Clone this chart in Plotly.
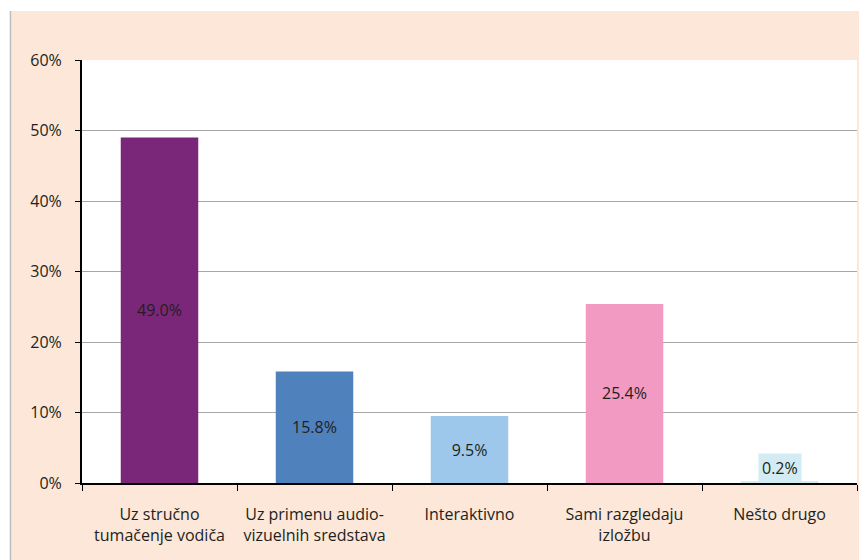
import plotly.graph_objects as go

categories = [
    'Uz stručno<br>tumačenje vodiča',
    'Uz primenu audio-<br>vizuelnih sredstava',
    'Interaktivno',
    'Sami razgledaju<br>izložbu',
    'Nešto drugo',
]
values = [49.0, 15.8, 9.5, 25.4, 0.2]
bar_colors = ['#7B2779', '#4F81BD', '#9DC8EB', '#F39AC3', '#D3ECF3']
y_ticks = [0, 10, 20, 30, 40, 50, 60]

PEACH = '#FCE7D9'
TEXT = '#231F20'
FONT = 'Open Sans, sans-serif'
FS = 16

labels = [f'{v:.1f}%' for v in values]
# the last bar is too small for an inside label, it gets an annotation instead
bar_text = labels[:-1] + ['']

fig = go.Figure(go.Bar(
    x=categories, y=values,
    marker=dict(color=bar_colors, line=dict(width=0)),
    width=0.5,
    text=bar_text,
    textposition='inside',
    insidetextanchor='middle',
    textangle=0,
    textfont=dict(family=FONT, size=FS, color=TEXT),
    hoverinfo='skip',
))

fig.add_annotation(
    x=categories[-1], y=values[-1],
    text=labels[-1], showarrow=False,
    yanchor='bottom', yshift=-1,
    bgcolor='#D3ECF3', borderpad=3,
    font=dict(family=FONT, size=FS, color=TEXT),
)

# page margin of the html puts the figure at (8, 8); thin white strip + grey rule
fig.add_shape(type='rect', xref='paper', yref='paper', layer='below',
              x0=-0.2, x1=1.1, y0=1.1158, y1=1.2,
              fillcolor='white', line=dict(width=0))
fig.add_shape(type='rect', xref='paper', yref='paper', layer='below',
              x0=-0.2, x1=-0.0929, y0=-0.3, y1=1.2,
              fillcolor='white', line=dict(width=0))
fig.add_shape(type='line', xref='paper', yref='paper', layer='below',
              x0=-0.0923, x1=-0.0923, y0=-0.2, y1=1.1158,
              line=dict(color='#BDBDBD', width=1.5))

fig.update_layout(
    width=859, height=552,
    paper_bgcolor=PEACH,
    plot_bgcolor='white',
    font=dict(family=FONT, color=TEXT, size=FS),
    margin=dict(l=74, r=10, t=52, b=77),
    showlegend=False,
    xaxis=dict(
        showgrid=False,
        showline=True, linecolor='black', linewidth=2,
        ticks='outside', tickson='boundaries', ticklen=6, tickcolor='black',
        tickfont=dict(family=FONT, size=FS, color=TEXT),
        ticklabelstandoff=16,
    ),
    yaxis=dict(
        range=[0, 60],
        tickvals=y_ticks,
        ticktext=[f'{t}%' for t in y_ticks],
        showgrid=True, gridcolor='#A6A6A6', gridwidth=1,
        showline=True, linecolor='black', linewidth=2,
        ticks='outside', ticklen=5, tickcolor='black',
        tickfont=dict(family=FONT, size=FS, color=TEXT),
        ticklabelstandoff=10,
        zeroline=False,
    ),
)

fig.write_html('out.html')
